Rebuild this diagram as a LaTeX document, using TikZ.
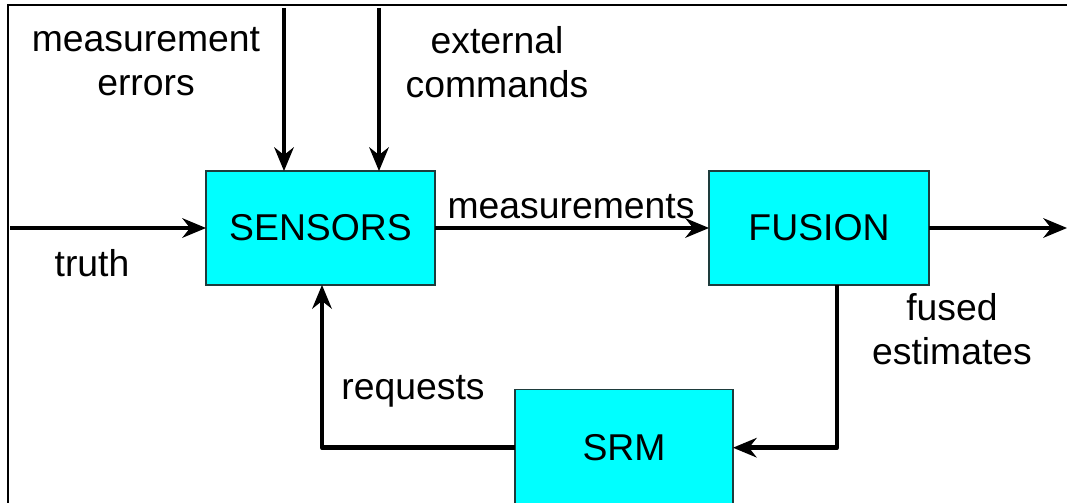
\documentclass[tikz,border=0pt]{standalone}
\usepackage{fontspec}
\setmainfont{Liberation Sans}
\usetikzlibrary{arrows.meta}
\definecolor{boxfill}{RGB}{0,255,255}
\definecolor{boxline}{RGB}{30,60,60}
\tikzset{
  block/.style={draw=boxline, line width=0.8pt, fill=boxfill, inner sep=0pt, outer sep=0pt,
    font=\fontsize{28}{33}\selectfont},
  lbl/.style={align=center, inner sep=0pt, font=\fontsize{28}{33}\selectfont},
  flowtip/.tip={Stealth[length=18pt,width=15pt,inset=6pt,line width=0pt]},
  flow/.style={line width=3.4pt, line join=round, -flowtip},
  frame/.style={line width=2pt}
}
\begin{document}
\begin{tikzpicture}[x=0.75pt,y=-0.75pt]
\useasboundingbox (0,0) rectangle (1067,503);
% outer frame (top and left edges)
\draw[frame] (1067,5) -- (8,5) -- (8,510);

% blocks
\node[block, minimum width=171.75pt, minimum height=85.5pt] (sensors) at (320.5,228) {SENSORS};
\node[block, minimum width=165pt, minimum height=85.5pt] (fusion) at (819,228) {FUSION};
\node[block, minimum width=163.5pt, minimum height=88pt] (srm) at (624,447.7) {SRM};

% free ends
\coordinate (truthin) at (10,228);
\coordinate (errin) at (284,8);
\coordinate (cmdin) at (379,8);
\coordinate (out) at (1067,228);

% labels
\node[lbl] (errlbl) at (146,62) {measurement\\errors};
\node[lbl] (cmdlbl) at (497,62) {external\\commands};
\node[lbl] (truthlbl) at (92,263) {truth};
\node[lbl] (measlbl) at (571,207) {measurements};
\node[lbl] (fusedlbl) at (952,329) {fused\\estimates};
\node[lbl] (reqlbl) at (413,391) {requests};

% connectors
\draw[flow] (truthin) -- (sensors.west);
\draw[flow] (errin) -- (errin |- sensors.north);
\draw[flow] (cmdin) -- (cmdin |- sensors.north);
\draw[flow] (sensors.east) -- (fusion.west);
\draw[flow] (fusion.east) -- (out);
\draw[flow] (fusion.south -| 837,0) |- (srm.east);
\draw[flow] (srm.west) -| (322,0 |- sensors.south);
\end{tikzpicture}
\end{document}
